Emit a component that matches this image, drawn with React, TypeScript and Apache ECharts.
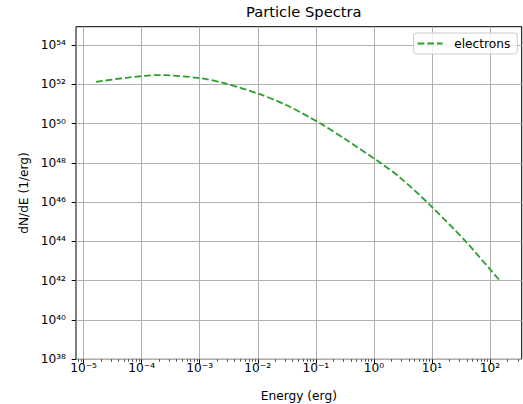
import React, { useEffect, useRef } from "react";
import * as echarts from "echarts";

// Electron spectrum (energy in erg, dN/dE in 1/erg)
const energies = [
  1.64e-5, 5.37e-5, 2.0e-4, 1.02e-3, 2.75e-3, 1.02e-2, 3.16e-2, 0.12,
  0.324, 1.29, 2.82, 8.91, 38.0, 102, 148,
];
const dNdE = [
  1.32e52, 2.14e52, 2.95e52, 2.04e52, 1.1e52, 3.31e51, 8.51e50, 1.0e50,
  1.58e49, 1.0e48, 1.78e47, 7.94e45, 1.0e44, 3.55e42, 1.0e42,
];
const seriesName = "electrons";

// Axis decades (exponents of 10)
const xTickExponents = [-5, -4, -3, -2, -1, 0, 1, 2];
const yTickExponents = [38, 40, 42, 44, 46, 48, 50, 52, 54];
const xRangeExp = [-5.13, 2.545];
const yRangeExp = [38, 54.93];

const SUP: Record<string, string> = {
  "0": "⁰", "1": "¹", "2": "²", "3": "³", "4": "⁴",
  "5": "⁵", "6": "⁶", "7": "⁷", "8": "⁸", "9": "⁹", "-": "⁻",
};
const pow10Label = (v: number) =>
  "10" + String(Math.round(v)).split("").map((c) => SUP[c] ?? c).join("");

const FONT = "DejaVu Sans";
const GREEN = "#2ca02c";

export default function App() {
  const ref = useRef<HTMLDivElement>(null);

  useEffect(() => {
    if (!ref.current) return;
    const chart = echarts.init(ref.current, undefined, { renderer: "svg" });

    const data = energies.map((e, i) => [Math.log10(e), Math.log10(dNdE[i])]);

    const minorX: number[] = [];
    for (let n = -6; n <= 2; n++) {
      for (let k = 2; k <= 9; k++) {
        const v = Math.log10(k) + n;
        if (v > xRangeExp[0] && v < xRangeExp[1]) minorX.push(v);
      }
    }

    chart.setOption({
      animation: false,
      backgroundColor: "#ffffff",
      title: {
        text: "Particle Spectra",
        left: 298.8,
        top: -1,
        textAlign: "center",
        textStyle: {
          fontFamily: FONT,
          fontSize: 14.7,
          fontWeight: "normal",
          color: "#000000",
        },
      },
      legend: {
        data: [
          {
            name: seriesName,
            icon: "path://M0,0h6.8v1.8h-6.8z M9.7,0h6.8v1.8h-6.8z M19.4,0h5.6v1.8h-5.6z",
            itemStyle: { color: GREEN },
          },
        ],
        right: 5.7,
        top: 33,
        orient: "horizontal",
        itemWidth: 25,
        itemHeight: 1.8,
        padding: [3.5, 7, 3.5, 4],
        borderColor: "#cccccc",
        borderWidth: 1,
        borderRadius: 3,
        backgroundColor: "rgba(255,255,255,0.8)",
        textStyle: {
          fontFamily: FONT,
          fontSize: 12.2,
          color: "#000000",
          lineHeight: 14,
          padding: [0, 0, 0, 6.6],
        },
      },
      grid: {
        left: 76,
        right: 1.3,
        top: 26.7,
        bottom: 44.7,
        containLabel: false,
        outerBoundsMode: "none",
        show: true,
        borderColor: "#000000",
        borderWidth: 1,
        backgroundColor: "#ffffff",
      },
      xAxis: [
        {
          type: "value",
          min: xRangeExp[0],
          max: xRangeExp[1],
          position: "bottom",
          name: "Energy (erg)",
          nameLocation: "middle",
          nameGap: 31,
          nameTextStyle: { fontFamily: FONT, fontSize: 12.2, color: "#000000" },
          axisLine: { show: false, onZero: false },
          axisTick: {
            show: true,
            inside: false,
            length: 4.3,
            customValues: xTickExponents,
            lineStyle: { color: "#000000", width: 1 },
          },
          axisLabel: {
            customValues: xTickExponents,
            formatter: (v: number) => pow10Label(v),
            fontFamily: FONT,
            fontSize: 12.2,
            color: "#000000",
            margin: 3,
          },
          splitLine: {
            show: true,
            lineStyle: { color: "#b0b0b0", width: 1 },
          },
        },
        {
          type: "value",
          min: xRangeExp[0],
          max: xRangeExp[1],
          position: "bottom",
          axisLine: { show: false, onZero: false },
          axisLabel: { show: false },
          splitLine: { show: false },
          axisTick: {
            show: true,
            inside: false,
            length: 2.4,
            customValues: minorX,
            lineStyle: { color: "#000000", width: 0.7 },
          },
        },
      ],
      yAxis: {
        type: "value",
        min: yRangeExp[0],
        max: yRangeExp[1],
        position: "left",
        name: "dN/dE (1/erg)",
        nameLocation: "middle",
        nameGap: 42.5,
        nameTextStyle: { fontFamily: FONT, fontSize: 12.2, color: "#000000" },
        axisLine: { show: false, onZero: false },
        axisTick: {
          show: true,
          inside: false,
          length: 4.3,
          customValues: yTickExponents,
          lineStyle: { color: "#000000", width: 1 },
        },
        axisLabel: {
          customValues: yTickExponents,
          formatter: (v: number) => pow10Label(v),
          fontFamily: FONT,
          fontSize: 12.2,
          color: "#000000",
          margin: 10,
          padding: [3, 0, 0, 0],
        },
        splitLine: {
          show: true,
          lineStyle: { color: "#b0b0b0", width: 1 },
        },
      },
      series: [
        {
          name: seriesName,
          type: "line",
          xAxisIndex: 0,
          data,
          smooth: 0.3,
          symbol: "none",
          showSymbol: false,
          lineStyle: { color: GREEN, width: 1.8, type: [6.8, 2.9] },
          itemStyle: { color: GREEN },
        },
      ],
    });

    return () => chart.dispose();
  }, []);

  return (
    <div
      ref={ref}
      style={{ position: "fixed", left: 0, top: 0, width: 523, height: 404 }}
    />
  );
}
